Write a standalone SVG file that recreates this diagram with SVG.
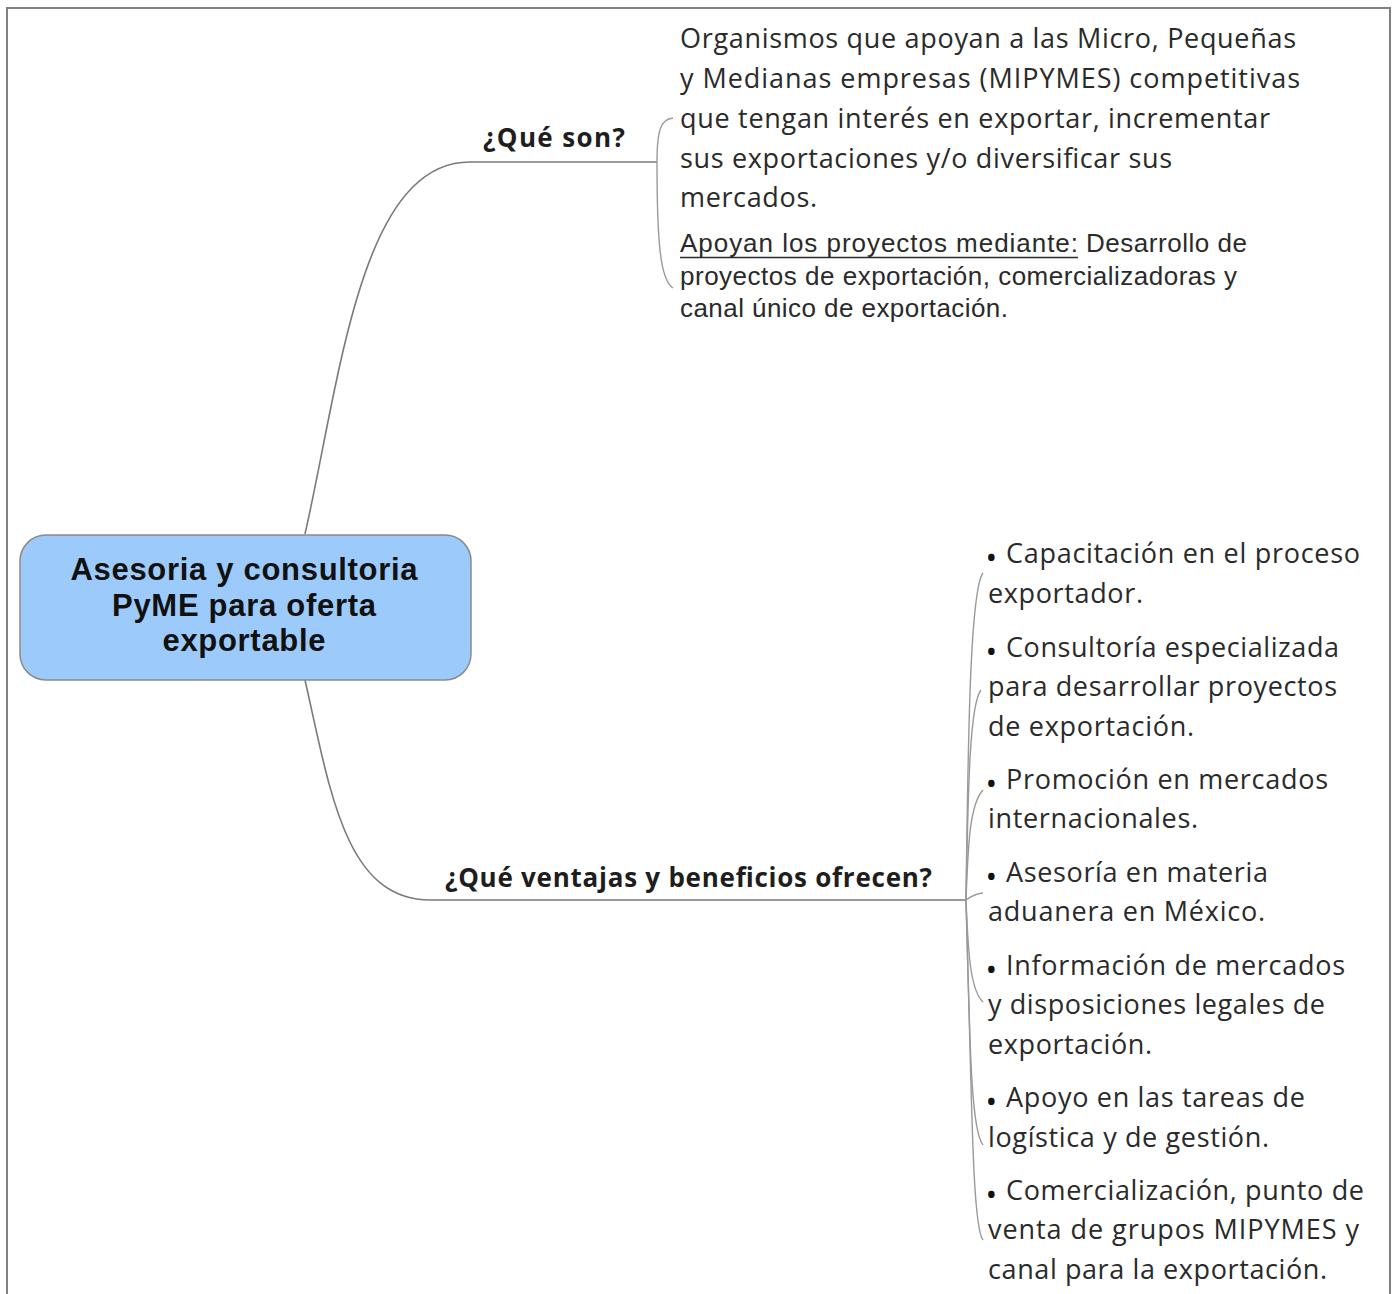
<svg xmlns="http://www.w3.org/2000/svg" width="1397" height="1294" viewBox="0 0 1397 1294">
<style>
.frame{fill:none;stroke:#808080;stroke-width:2}
.conn{fill:none;stroke:#7a7a7a;stroke-width:1.6}
.br{fill:none;stroke:#9a9a9a;stroke-width:1.4}
.t{font-family:"Open Sans","Noto Sans",sans-serif;font-size:27px;fill:#2a2a2a}
.a{font-family:"Liberation Sans",Arial,sans-serif;font-size:26px;fill:#2a2a2a}
.ul{stroke:#2a2a2a;stroke-width:1.6}
.lbl{font-family:"Open Sans","Noto Sans",sans-serif;font-size:26px;font-weight:bold;fill:#1e1e1e}
.b{font-size:23px;font-weight:bold;fill:#111}
.title{font-family:"Liberation Sans",Arial,sans-serif;font-size:31px;font-weight:bold;fill:#111;text-anchor:middle}
</style>
<rect width="1397" height="1294" fill="#fff"/>
<path class="frame" d="M7,1294 V8 H1390 V1294"/>
<g id="connectors">
<path class="conn" d="M305,534 C340,380 360,162 470,162 H657"/>
<path class="conn" d="M305,680 C330,790 345,900 430,900 H966"/>
<path class="br" d="M657,162 C657,130 661,119 673,118"/>
<path class="br" d="M657,162 C657,240 660,280 673,288"/>
<path class="br" d="M966,900 C968,740 970,590 983,573"/>
<path class="br" d="M966,900 C968,800 969,705 981,690"/>
<path class="br" d="M966,900 C968,850 969,805 983,790"/>
<path class="br" d="M966,900 C970,897 974,894 983,893"/>
<path class="br" d="M966,900 C968,950 970,990 983,1002"/>
<path class="br" d="M966,900 C970,1050 971,1130 983,1145"/>
<path class="br" d="M966,900 C972,1100 972,1225 983,1240"/>
</g>
<g id="root">
<rect x="20" y="535" width="451" height="145" rx="26" ry="26" fill="#9ccbfb" stroke="#8a8a8a" stroke-width="1.5"/>
<text class="title" x="244" y="580" textLength="347">Asesoria y consultoria</text>
<text class="title" x="244" y="616" textLength="264">PyME para oferta</text>
<text class="title" x="244" y="651" textLength="163">exportable</text>
</g>
<g id="que-son">
<text class="lbl" x="483" y="147" textLength="142">¿Qué son?</text>
</g>
<g id="que-son-detalle">
<text class="t" x="680" y="48" textLength="616">Organismos que apoyan a las Micro, Pequeñas</text>
<text class="t" x="680" y="88" textLength="620">y Medianas empresas (MIPYMES) competitivas</text>
<text class="t" x="680" y="128" textLength="590">que tengan interés en exportar, incrementar</text>
<text class="t" x="680" y="168" textLength="492">sus exportaciones y/o diversificar sus</text>
<text class="t" x="680" y="207" textLength="137">mercados.</text>
</g>
<g id="apoyan">
<text class="a" x="680" y="252" textLength="398">Apoyan los proyectos mediante:</text>
<line class="ul" x1="680" y1="257.5" x2="1078" y2="257.5"/>
<text class="a" x="1086" y="252" textLength="161">Desarrollo de</text>
<text class="a" x="680" y="285" textLength="557">proyectos de exportación, comercializadoras y</text>
<text class="a" x="680" y="317" textLength="328">canal único de exportación.</text>
</g>
<g id="ventajas">
<text class="lbl" x="445" y="887" textLength="487">¿Qué ventajas y beneficios ofrecen?</text>
</g>
<g id="item1">
<text class="t"><tspan class="b" x="987" y="566">•</tspan><tspan x="1006" y="563" textLength="354">Capacitación en el proceso</tspan></text>
<text class="t" x="988" y="603" textLength="155">exportador.</text>
</g>
<g id="item2">
<text class="t"><tspan class="b" x="987" y="660">•</tspan><tspan x="1006" y="657" textLength="333">Consultoría especializada</tspan></text>
<text class="t" x="988" y="696" textLength="349">para desarrollar proyectos</text>
<text class="t" x="988" y="736" textLength="206">de exportación.</text>
</g>
<g id="item3">
<text class="t"><tspan class="b" x="987" y="792">•</tspan><tspan x="1006" y="789" textLength="322">Promoción en mercados</tspan></text>
<text class="t" x="988" y="828" textLength="210">internacionales.</text>
</g>
<g id="item4">
<text class="t"><tspan class="b" x="987" y="885">•</tspan><tspan x="1006" y="882" textLength="262">Asesoría en materia</tspan></text>
<text class="t" x="988" y="921" textLength="277">aduanera en México.</text>
</g>
<g id="item5">
<text class="t"><tspan class="b" x="987" y="978">•</tspan><tspan x="1006" y="975" textLength="339">Información de mercados</tspan></text>
<text class="t" x="988" y="1014" textLength="337">y disposiciones legales de</text>
<text class="t" x="988" y="1054" textLength="164">exportación.</text>
</g>
<g id="item6">
<text class="t"><tspan class="b" x="987" y="1110">•</tspan><tspan x="1006" y="1107" textLength="299">Apoyo en las tareas de</tspan></text>
<text class="t" x="988" y="1147" textLength="281">logística y de gestión.</text>
</g>
<g id="item7">
<text class="t"><tspan class="b" x="987" y="1203">•</tspan><tspan x="1006" y="1200" textLength="358">Comercialización, punto de</tspan></text>
<text class="t" x="988" y="1239" textLength="371">venta de grupos MIPYMES y</text>
<text class="t" x="988" y="1279" textLength="339">canal para la exportación.</text>
</g>
</svg>
